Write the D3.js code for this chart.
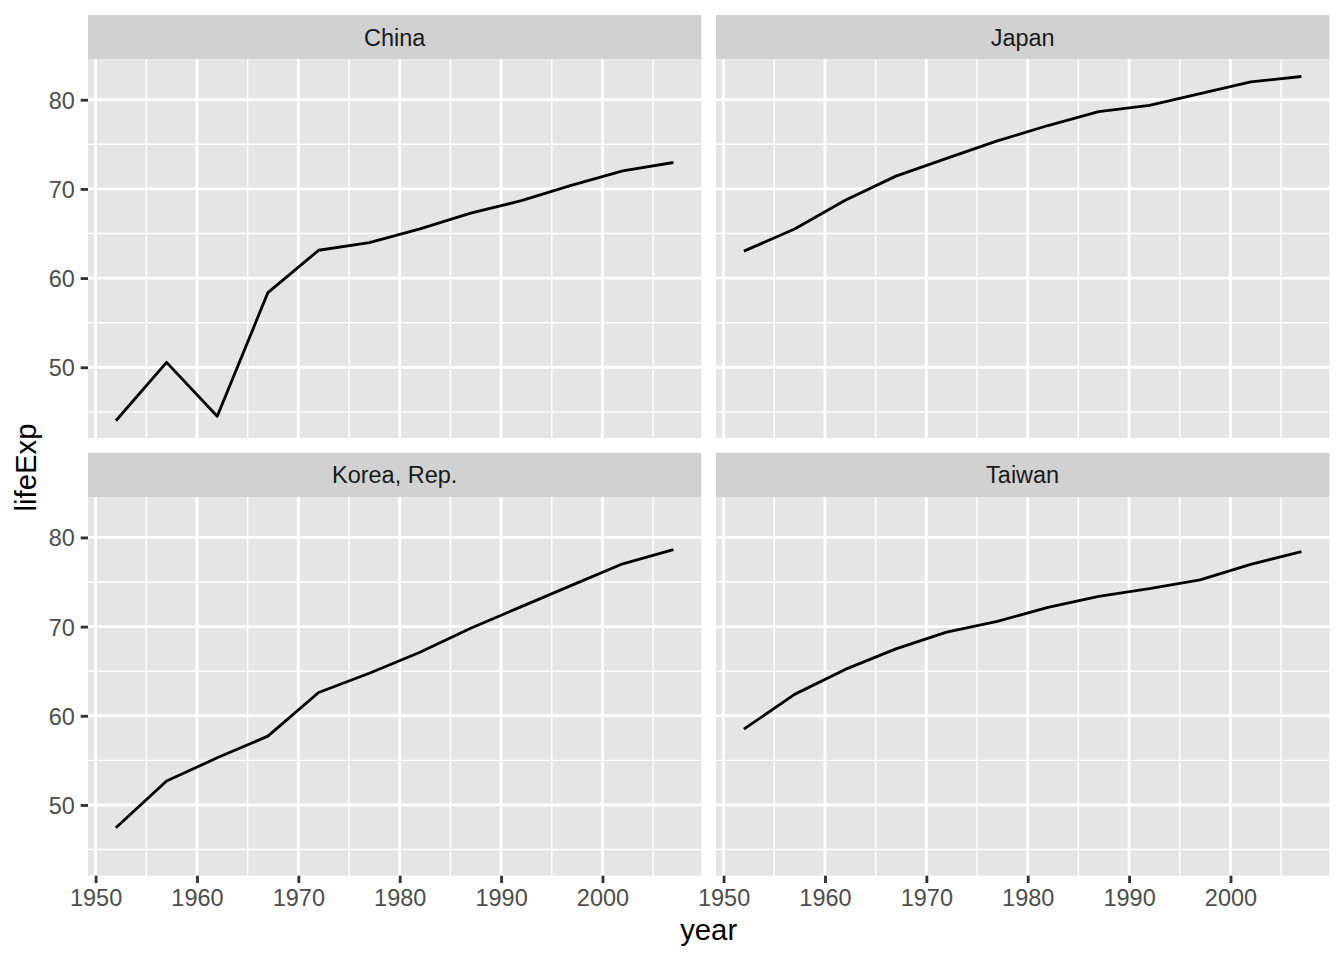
<!DOCTYPE html>
<html><head><meta charset="utf-8">
<script src="https://cdn.jsdelivr.net/npm/d3@7"></script>
<style>body{margin:0;background:#fff}svg{display:block}text{font-family:"Liberation Sans",Arial,Helvetica,sans-serif}</style>
</head><body>
<svg id="chart" width="1344" height="960"></svg>
<script>
const years = [1952,1957,1962,1967,1972,1977,1982,1987,1992,1997,2002,2007];
const countries = ["China","Japan","Korea, Rep.","Taiwan"];
const china = [44.0,50.549,44.501,58.381,63.119,63.967,65.525,67.274,68.69,70.426,72.028,72.961];
const japan = [63.03,65.5,68.73,71.43,73.42,75.38,77.11,78.67,79.36,80.69,82.0,82.603];
const korea = [47.453,52.681,55.292,57.716,62.612,64.766,67.123,69.81,72.244,74.647,77.045,78.623];
const taiwan = [58.5,62.4,65.2,67.5,69.39,70.59,72.16,73.4,74.26,75.25,76.99,78.4];
const xMajor = [1950,1960,1970,1980,1990,2000];
const xMinor = [1955,1965,1975,1985,1995,2005];
const yMajor = [50,60,70,80];
const yMinor = [45,55,65,75];
const seriesValues = [china, japan, korea, taiwan];

(function () {
const svg = d3.select("#chart");
const gLeft = 88, gRight = 1329.3, gTop = 15, stripH = 44.3, gap = 14.7;
const W = (gRight - gLeft - gap) / 2;
const bottomPanel = 875.7;
const H = (bottomPanel - gTop - 2*stripH - gap) / 2;

const allVals = seriesValues.flat();
const yMin = d3.min(allVals), yMax = d3.max(allVals);
const yPad = (yMax - yMin) * 0.05;
const xPad = (d3.max(years) - d3.min(years)) * 0.05;
const x = d3.scaleLinear().domain([d3.min(years) - xPad, d3.max(years) + xPad]).range([0, W]);
const y = d3.scaleLinear().domain([yMin - yPad, yMax + yPad]).range([H, 0]);

const tickFont = 23.47;
countries.forEach((name, i) => {
  const col = i % 2, row = Math.floor(i / 2);
  const px = gLeft + col * (W + gap);
  const sy = gTop + row * (stripH + H + gap);
  const py = sy + stripH;
  const g = svg.append("g");
  g.append("rect").attr("x", px).attr("y", sy).attr("width", W).attr("height", stripH).attr("fill", "#d1d1d1");
  g.append("text").attr("x", px + W/2).attr("y", sy + stripH/2 + 8.6).attr("text-anchor", "middle")
    .attr("font-size", tickFont).attr("fill", "#1a1a1a").text(name);
  const p = g.append("g").attr("transform", `translate(${px},${py})`);
  p.append("rect").attr("width", W).attr("height", H).attr("fill", "#e5e5e5");
  p.selectAll(".vmin").data(xMinor).join("line").attr("x1", d => x(d)).attr("x2", d => x(d)).attr("y1", 0).attr("y2", H).attr("stroke", "#fff").attr("stroke-width", 1.42);
  p.selectAll(".hmin").data(yMinor).join("line").attr("y1", d => y(d)).attr("y2", d => y(d)).attr("x1", 0).attr("x2", W).attr("stroke", "#fff").attr("stroke-width", 1.42);
  p.selectAll(".vmaj").data(xMajor).join("line").attr("x1", d => x(d)).attr("x2", d => x(d)).attr("y1", 0).attr("y2", H).attr("stroke", "#fff").attr("stroke-width", 2.85);
  p.selectAll(".hmaj").data(yMajor).join("line").attr("y1", d => y(d)).attr("y2", d => y(d)).attr("x1", 0).attr("x2", W).attr("stroke", "#fff").attr("stroke-width", 2.85);
  const data = years.map((yr, k) => [yr, seriesValues[i][k]]);
  p.append("path").datum(data).attr("fill", "none").attr("stroke", "#000").attr("stroke-width", 2.85)
    .attr("stroke-linejoin", "round").attr("d", d3.line().x(d => x(d[0])).y(d => y(d[1])));
  if (col === 0) {
    const ya = d3.axisLeft(y).tickValues(yMajor).tickSize(7.33).tickPadding(5.9).tickFormat(d3.format("d"));
    const ag = p.append("g").call(ya);
    ag.select(".domain").remove();
    ag.selectAll(".tick line").attr("stroke", "#333").attr("stroke-width", 2.85);
    ag.selectAll(".tick text").attr("font-size", tickFont).attr("fill", "#4d4d4d").attr("dy", "0.36em");
    ag.attr("font-family", null);
  }
  if (row === 1) {
    const xa = d3.axisBottom(x).tickValues(xMajor).tickSize(7.33).tickPadding(5.9).tickFormat(d3.format("d"));
    const ag = p.append("g").attr("transform", `translate(0,${H})`).call(xa);
    ag.select(".domain").remove();
    ag.selectAll(".tick line").attr("stroke", "#333").attr("stroke-width", 2.85);
    ag.selectAll(".tick text").attr("font-size", tickFont).attr("fill", "#4d4d4d").attr("dy", "0.74em");
    ag.attr("font-family", null);
  }
});

svg.append("text").attr("x", (gLeft + gRight) / 2).attr("y", 940).attr("text-anchor", "middle")
  .attr("font-size", 29.3).attr("fill", "#000").text("year");
svg.append("text").attr("transform", `translate(36,${(gTop + stripH + bottomPanel) / 2}) rotate(-90)`).attr("text-anchor", "middle")
  .attr("font-size", 29.3).attr("fill", "#000").text("lifeExp");
})();
</script>
</body></html>
